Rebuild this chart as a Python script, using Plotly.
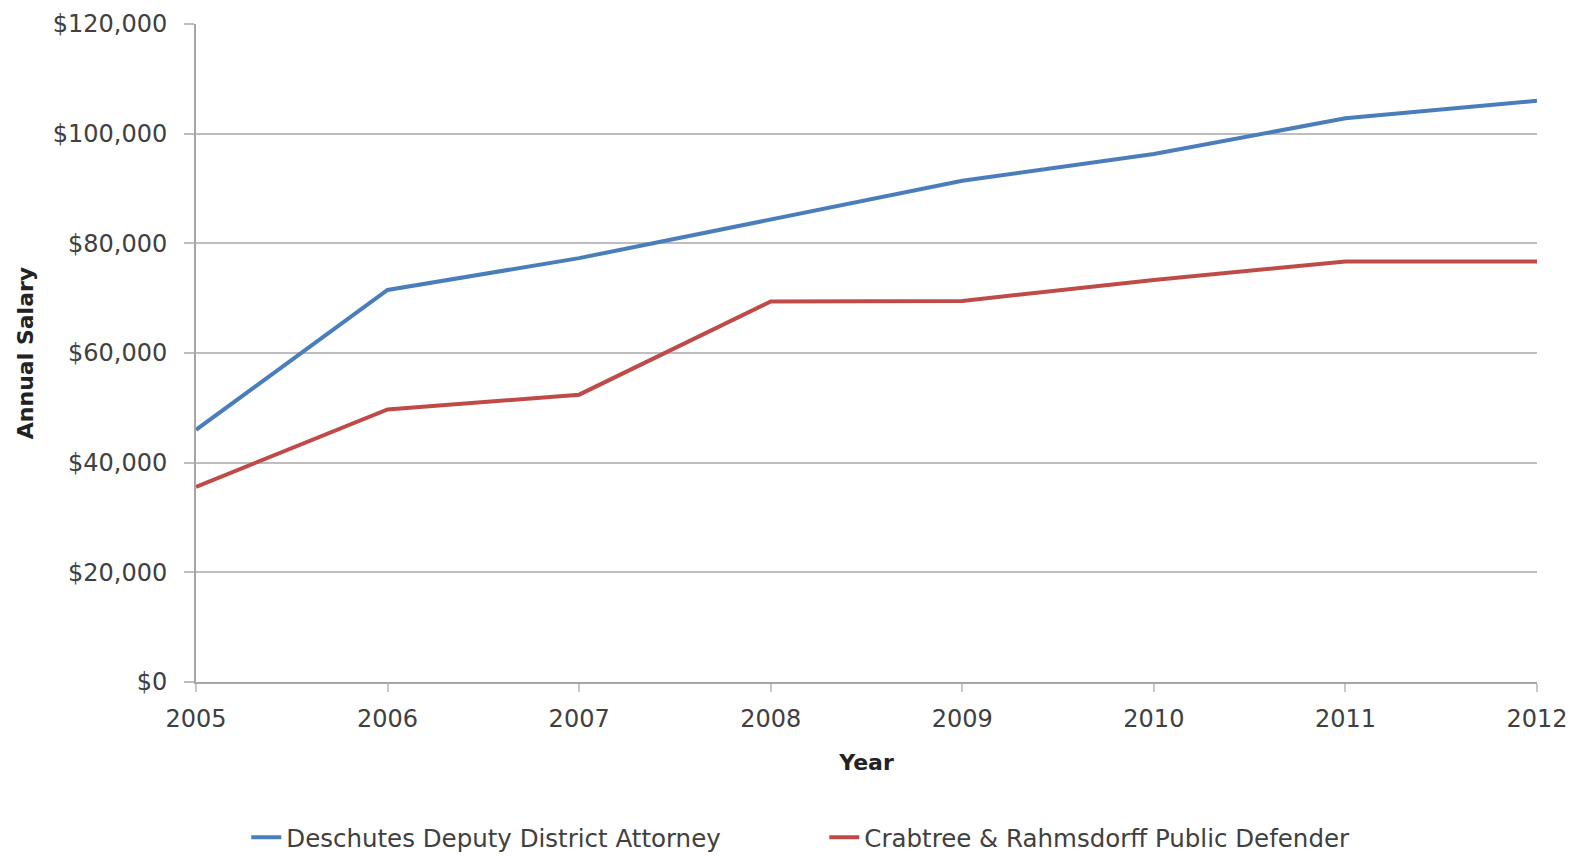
import plotly.graph_objects as go

years = [2005, 2006, 2007, 2008, 2009, 2010, 2011, 2012]
deschutes_da = [46000, 71500, 77300, 84300, 91400, 96300, 102800, 106000]
crabtree_pd = [35600, 49700, 52400, 69400, 69500, 73300, 76700, 76700]
y_ticks = [0, 20000, 40000, 60000, 80000, 100000, 120000]
y_tick_labels = ["$0", "$20,000", "$40,000", "$60,000", "$80,000", "$100,000", "$120,000"]
series_names = ["Deschutes Deputy District Attorney", "Crabtree & Rahmsdorff Public Defender"]

FONT = "'DejaVu Sans', Verdana, sans-serif"

fig = go.Figure()
fig.add_trace(go.Scatter(x=years, y=deschutes_da, mode="lines", name=series_names[0],
                         line=dict(color="#4A7EBB", width=4)))
fig.add_trace(go.Scatter(x=years, y=crabtree_pd, mode="lines", name=series_names[1],
                         line=dict(color="#BE4B48", width=4)))

fig.update_layout(
    width=1580, height=856,
    margin=dict(l=196, r=43, t=24, b=174, autoexpand=False),
    paper_bgcolor="white", plot_bgcolor="white",
    font=dict(family=FONT, size=24, color="#404040"),
    showlegend=True,
    legend=dict(orientation="h", x=0.0375, y=-0.236, xanchor="left", yanchor="middle",
                font=dict(family=FONT, size=24.5, color="#404040"),
                entrywidth=533, entrywidthmode="pixels", tracegroupgap=0),
    xaxis=dict(
        range=[2005, 2012], tickmode="array", tickvals=years,
        ticktext=[str(y) for y in years], automargin=False,
        showgrid=False, zeroline=False,
        showline=True, linecolor="#A6A6A6", linewidth=2,
        ticks="outside", ticklen=8, tickcolor="#C8C8C8", tickwidth=2,
        ticklabelstandoff=6,
        title=dict(text="<b>Year</b>", font=dict(family=FONT, size=22, color="#222222"), standoff=23),
    ),
    yaxis=dict(
        range=[0, 120000], tickmode="array", tickvals=y_ticks, ticktext=y_tick_labels,
        automargin=False,
        showgrid=True, gridcolor="#BEBEBE", gridwidth=2, zeroline=False,
        showline=True, linecolor="#A6A6A6", linewidth=2,
        ticks="outside", ticklen=10, tickcolor="#BEBEBE", tickwidth=2,
        ticklabelstandoff=12,
        title=dict(text="<b>Annual Salary</b>", font=dict(family=FONT, size=22, color="#222222"), standoff=13),
    ),
)

fig.write_html(
    "out.html",
    config={"displayModeBar": False},
    post_script="document.body.style.margin='0';document.body.style.overflow='hidden';"
                "document.documentElement.style.overflow='hidden';",
)
